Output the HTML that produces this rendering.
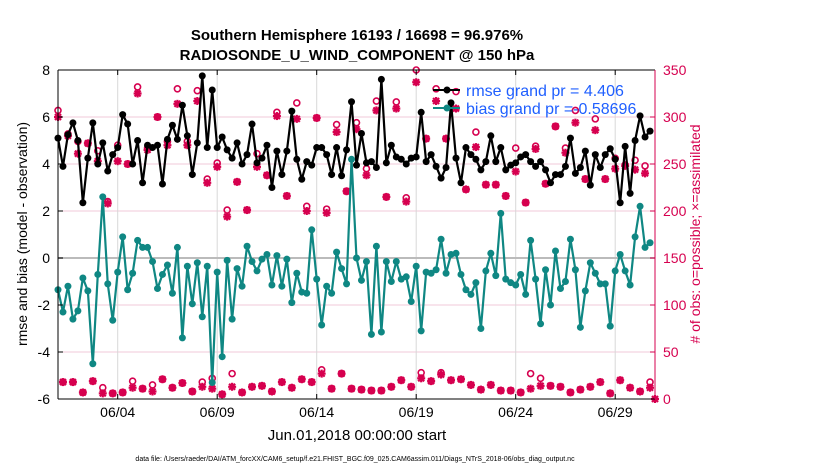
<!DOCTYPE html>
<html><head><meta charset="utf-8">
<style>
html,body{margin:0;padding:0;background:#fff;}
svg{display:block;font-family:"Liberation Sans",Arial,sans-serif;}
</style></head>
<body>
<svg id="chart" width="830" height="470" viewBox="0 0 830 470" xmlns="http://www.w3.org/2000/svg">
<text x="357" y="40" text-anchor="middle" font-size="15" font-weight="bold">Southern Hemisphere 16193 / 16698 = 96.976%</text>
<text x="357" y="60" text-anchor="middle" font-size="15" font-weight="bold">RADIOSONDE_U_WIND_COMPONENT @ 150 hPa</text>
<text x="357" y="440" text-anchor="middle" font-size="15">Jun.01,2018 00:00:00 start</text>
<text x="355" y="461" text-anchor="middle" font-size="7">data file: /Users/raeder/DAI/ATM_forcXX/CAM6_setup/f.e21.FHIST_BGC.f09_025.CAM6assim.011/Diags_NTrS_2018-06/obs_diag_output.nc</text>
<text transform="translate(27,234) rotate(-90)" text-anchor="middle" font-size="14">rmse and bias (model - observation)</text>
<text transform="translate(700,234) rotate(-90)" text-anchor="middle" font-size="14" fill="#d6004f"># of obs: o=possible; ×=assimilated</text>
<g id="grid"></g>
<g id="marks"></g>
<g id="axes"></g>
<g id="legend">
  <line x1="433" y1="90" x2="460" y2="90" stroke="#000" stroke-width="2"/>
  <circle cx="447" cy="90" r="3.5" fill="#000"/>
  <text x="466" y="96" font-size="16" fill="#1f5fff">rmse grand pr = 4.406</text>
  <line x1="433" y1="108" x2="460" y2="108" stroke="#0f8783" stroke-width="2"/>
  <circle cx="447" cy="108" r="3.5" fill="#0f8783"/>
  <text x="466" y="114" font-size="16" fill="#1f5fff">bias grand pr =-0.58696</text>
</g>
</svg>
<script>
const xTickLabels = ["06/04","06/09","06/14","06/19","06/24","06/29"];
const xTickDays = [3,8,13,18,23,28];
const yTicks = [-6,-4,-2,0,2,4,6,8];
const rTicks = [0,50,100,150,200,250,300,350];
const rmse = [5.1,3.9,5.25,5.75,5.0,2.35,4.25,5.75,4.0,4.9,3.7,4.4,4.7,6.1,5.7,4.0,5.0,3.2,4.8,4.7,4.8,3.15,5.05,5.65,5.05,6.5,5.2,3.55,4.9,7.75,4.7,7.15,4.7,5.15,4.6,4.25,4.9,4.0,4.4,5.7,4.05,
4.25,4.8,3.0,4.55,3.55,4.55,6.25,4.2,3.35,4.1,3.95,4.7,4.7,4.4,3.55,4.7,3.5,4.6,6.65,3.95,5.3,4.05,4.1,3.85,7.6,4.05,4.8,4.3,4.2,4.0,4.25,4.3,6.2,4.1,4.4,3.9,3.4,3.85,6.6,
4.25,3.2,4.7,4.4,4.2,3.75,4.1,5.2,4.1,4.7,3.75,3.95,4.05,4.3,4.4,4.1,3.9,4.1,3.75,3.2,3.55,3.55,3.9,5.1,3.6,3.85,4.55,3.1,4.4,3.85,4.4,4.65,4.2,2.35,4.75,2.75,5.0,6.05,5.15,5.4];
const bias = [-1.35,-2.3,-1.2,-2.6,-2.25,-0.85,-1.4,-4.5,-0.7,2.6,-1.1,-2.65,-0.6,0.9,-1.35,-0.65,0.75,0.45,0.45,-0.15,-1.3,-0.7,-0.3,-1.5,0.45,-3.4,-0.35,-1.95,-0.2,-2.5,-0.35,-5.3,-0.6,-4.2,-0.1,-2.6,-0.45,-1.2,0.5,-0.15,-0.55,
-0.05,0.15,-1.15,0.1,-1.2,-0.05,-1.9,-0.65,-1.45,-1.5,1.2,-0.9,-2.85,-1.2,-1.5,0.25,-0.45,-1.1,4.2,0,-0.95,-0.15,-3.25,0.5,-3.15,-0.15,-1.0,-0.15,-0.9,-0.8,-1.85,-0.35,-3.1,-0.6,-0.65,-0.5,0.8,-0.65,0.15,
0.2,-0.7,-1.35,-1.55,-1.05,-3.0,-0.55,0.2,-0.75,1.9,-0.9,-1.05,-1.15,-0.7,-1.55,0.75,-0.9,-2.8,-0.5,-2.0,0.3,-1.3,-1.0,0.8,-0.5,-2.95,-1.4,-0.2,-0.65,-1.1,-1.1,-2.9,-0.55,0.15,-0.55,-1.15,0.9,2.2,0.45,0.65];
const possTop = [307,282,274,272,264,210,270,250,332,267,300,274,330,274,328,234,251,201,231,201,261,
238,305,216,315,205,299,202,292,221,294,245,317,215,316,214,350,277,330,277,327,
223,284,228,228,216,267,209,269,229,290,267,307,234,298,234,256,249,254,248];
const assimTop = [300,280,261,272,253,208,253,250,325,265,300,270,314,270,317,230,247,194,231,201,247,
238,301,216,298,200,299,198,284,221,287,238,307,215,309,210,337,277,317,277,309,
223,268,228,228,216,242,209,266,229,290,262,294,234,286,234,245,248,244,240];
const possBot = [18,18,7,19,12,6,7,19,11,15,21,12,17,8,18,22,5,27,7,13,
14,8,18,12,21,18,31,11,27,11,10,9,9,13,20,13,28,19,28,20,
21,15,10,15,9,9,7,27,22,14,13,7,10,13,18,6,20,12,8,18];
const assimBot = [18,18,7,19,6,6,7,12,11,8,21,12,17,8,13,11,5,13,7,13,
14,8,18,12,21,18,27,11,27,11,10,9,9,13,20,13,22,19,26,20,
21,15,10,15,9,9,7,11,14,14,13,7,10,13,18,6,20,12,8,12];
const finalCount = [0];

const NS="http://www.w3.org/2000/svg";
const L=58,R=655,T=70,B=399;
const xS=d=>L+(R-L)*d/30;
const yS=v=>B-(B-T)*(v+6)/14;
const rS=c=>B-(B-T)*c/350;
const PINK="#d6004f", TEAL="#0f8783";
function mk(tag,attrs,parent){const e=document.createElementNS(NS,tag);for(const k in attrs)e.setAttribute(k,attrs[k]);parent.appendChild(e);return e;}
const grid=document.getElementById('grid'),marks=document.getElementById('marks'),axes=document.getElementById('axes');

yTicks.forEach(v=>{if(v===0||v===-6||v===8)return;
  const g=mk('line',{x1:L,x2:R,y1:yS(v),y2:yS(v),stroke:'#f2c9d8','stroke-width':1},grid);
  
  
});
xTickDays.forEach((d,i)=>{
  const g=mk('line',{x1:xS(d),x2:xS(d),y1:T,y2:B,stroke:'#d8d8d8','stroke-width':1},grid);
  
  
  const t=mk('text',{x:xS(d),y:B+18,'text-anchor':'middle','font-size':14},axes);
  t.textContent=xTickLabels[i];
  
  
  mk('line',{x1:xS(d),x2:xS(d),y1:B,y2:B-5,stroke:'#000'},axes);
  mk('line',{x1:xS(d),x2:xS(d),y1:T,y2:T+5,stroke:'#000'},axes);
});
const zl=mk('line',{x1:L,x2:R,y1:yS(0),y2:yS(0),stroke:'#bbb','stroke-width':2},grid);



yTicks.forEach(v=>{
  const t=mk('text',{x:L-8,y:yS(v)+5,'text-anchor':'end','font-size':14},axes);
  t.textContent=v;
  
  
  mk('line',{x1:L,x2:L+5,y1:yS(v),y2:yS(v),stroke:'#000'},axes);
});
rTicks.forEach(c=>{
  const t=mk('text',{x:R+8,y:rS(c)+5,'text-anchor':'start','font-size':14,fill:PINK},axes);
  t.textContent=c;
  
  
  mk('line',{x1:R,x2:R-5,y1:rS(c),y2:rS(c),stroke:PINK},axes);
});
mk('line',{x1:L,x2:R,y1:T,y2:T,stroke:'#000'},axes);
mk('line',{x1:L,x2:R,y1:B,y2:B,stroke:'#000'},axes);
mk('line',{x1:L,x2:L,y1:T,y2:B,stroke:'#000'},axes);
mk('line',{x1:R,x2:R,y1:T,y2:B,stroke:PINK},axes);

function star(x,y,name){
  const g=mk('g',{stroke:PINK,'stroke-width':2.2},marks);
  
  
  const r=4;
  mk('line',{x1:x-r,x2:x+r,y1:y,y2:y},g);
  mk('line',{x1:x,x2:x,y1:y-r,y2:y+r},g);
  mk('line',{x1:x-3,x2:x+3,y1:y-3,y2:y+3},g);
  mk('line',{x1:x-3,x2:x+3,y1:y+3,y2:y-3},g);
}
function ring(x,y,name){
  const c=mk('circle',{cx:x,cy:y,r:3,fill:'none',stroke:PINK,'stroke-width':1.6},marks);
  
  
}
possTop.forEach((c,k)=>ring(xS(k*0.5),rS(c),'possible-obs'));
possBot.forEach((c,k)=>ring(xS(k*0.5+0.25),rS(c),'possible-obs'));
assimTop.forEach((c,k)=>star(xS(k*0.5),rS(c),'assimilated-obs'));
assimBot.forEach((c,k)=>star(xS(k*0.5+0.25),rS(c),'assimilated-obs'));
finalCount.forEach(c=>{star(xS(30),rS(c),'assimilated-obs');});

function series(vals,color,name){
  const pts=vals.map((v,i)=>xS(i*0.25)+','+yS(v)).join(' ');
  const p=mk('polyline',{points:pts,fill:'none',stroke:color,'stroke-width':2.2,'stroke-linejoin':'round'},marks);
  
  
  vals.forEach((v,i)=>{
    const c=mk('circle',{cx:xS(i*0.25),cy:yS(v),r:3.5,fill:color},marks);
    
    
  });
}
series(bias,TEAL,'bias');
series(rmse,'#000','rmse');
</script>
</body></html>
